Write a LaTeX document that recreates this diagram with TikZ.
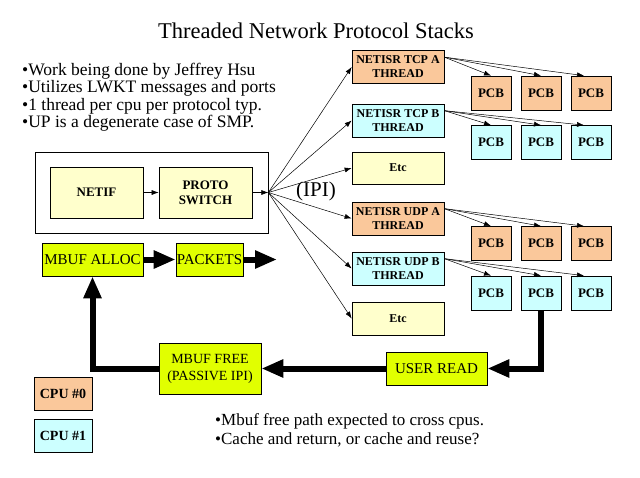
\documentclass[tikz,border=0pt]{standalone}
\usepackage{fontspec}
\setmainfont{Liberation Serif}
\usetikzlibrary{arrows.meta,calc}
\definecolor{peach}{RGB}{250,200,155}
\definecolor{lcyan}{RGB}{204,255,255}
\definecolor{lyel}{RGB}{255,255,204}
\definecolor{ygreen}{RGB}{225,255,0}
\begin{document}
\begin{tikzpicture}[x=1pt,y=-1pt,
  bx/.style={draw=black, line width=0.7pt, inner sep=0pt, align=center},
  thr/.style={bx, minimum width=92pt, minimum height=33pt, font=\bfseries\fontsize{12}{14}\selectfont},
  pcb/.style={bx, minimum width=40pt, minimum height=34pt, font=\bfseries\fontsize{13}{14}\selectfont},
  big/.style={bx, fill=ygreen, minimum height=33pt, font=\fontsize{15}{17}\selectfont},
  cpu/.style={bx, minimum width=58pt, minimum height=33pt, font=\bfseries\fontsize{14}{16}\selectfont},
  inner/.style={bx, fill=lyel, minimum width=93pt, minimum height=51pt, font=\bfseries\fontsize{13}{15}\selectfont},
  bul/.style={anchor=base west, inner sep=0pt, font=\fontsize{17.5}{17}\selectfont},
  note/.style={anchor=base west, inner sep=0pt, font=\fontsize{17}{17}\selectfont},
  thinarr/.style={line width=0.5pt, -{Latex[length=7pt,width=5pt]}},
  thickarr/.style={line width=6pt, line join=miter, -{Triangle[length=22pt,width=17pt]}},
]
\useasboundingbox (0,0) rectangle (640,477);

% title and bullets
\node[font=\fontsize{22.5}{26}\selectfont] (title) at (316,31) {Threaded Network Protocol Stacks};
\node[bul] (b1) at (22,75) {•Work being done by Jeffrey Hsu};
\node[bul] (b2) at (22,92.5) {•Utilizes LWKT messages and ports};
\node[bul] (b3) at (22,110) {•1 thread per cpu per protocol typ.};
\node[bul] (b4) at (22,127.5) {•UP is a degenerate case of SMP.};

% left block
\node[bx, minimum width=233pt, minimum height=81pt] (outer) at (151.5,192.5) {};
\node[inner] (netif) at (96.5,192.5) {NETIF};
\node[inner] (proto) at (205.5,192.5) {PROTO\\SWITCH};
\node[big, minimum width=101pt] (alloc) at (92.5,259.5) {MBUF ALLOC};
\node[big, minimum width=67pt] (packets) at (209.5,259.5) {PACKETS};
\coordinate (pout) at (277,259.5);

% threads
\node[thr, fill=peach] (tcpa) at (398,67) {NETISR TCP A\\THREAD};
\node[thr, fill=lcyan] (tcpb) at (398,120.5) {NETISR TCP B\\THREAD};
\node[thr, fill=lyel, minimum height=32pt] (etca) at (398,168) {Etc};
\node[thr, fill=peach] (udpa) at (398,218.5) {NETISR UDP A\\THREAD};
\node[thr, fill=lcyan] (udpb) at (398,268.5) {NETISR UDP B\\THREAD};
\node[thr, fill=lyel] (etcb) at (398,318.5) {Etc};

% PCBs
\node[pcb, fill=peach] (pa1) at (491,93) {PCB};
\node[pcb, fill=peach] (pa2) at (541,93) {PCB};
\node[pcb, fill=peach] (pa3) at (591,93) {PCB};
\node[pcb, fill=lcyan] (pb1) at (491,142.5) {PCB};
\node[pcb, fill=lcyan] (pb2) at (541,142.5) {PCB};
\node[pcb, fill=lcyan] (pb3) at (591,142.5) {PCB};
\node[pcb, fill=peach] (pc1) at (491,243.5) {PCB};
\node[pcb, fill=peach] (pc2) at (541,243.5) {PCB};
\node[pcb, fill=peach] (pc3) at (591,243.5) {PCB};
\node[pcb, fill=lcyan] (pd1) at (491,293) {PCB};
\node[pcb, fill=lcyan] (pd2) at (541,293) {PCB};
\node[pcb, fill=lcyan] (pd3) at (591,293) {PCB};

% bottom
\node[big, minimum width=102pt, minimum height=51pt, font=\fontsize{14}{17}\selectfont] (free) at (210,368.5) {MBUF FREE\\(PASSIVE IPI)};
\node[big, minimum width=101pt] (uread) at (436.5,368.5) {USER READ};
\node[cpu, fill=peach] (cpu0) at (63,393.5) {CPU \#0};
\node[cpu, fill=lcyan] (cpu1) at (63,435.5) {CPU \#1};
\node[note] (n1) at (215,425) {•Mbuf free path expected to cross cpus.};
\node[note] (n2) at (215,444) {•Cache and return, or cache and reuse?};

\node[font=\fontsize{21}{24}\selectfont] (ipi) at (316,191) {(IPI)};

% thin connectors
\draw[thinarr] (netif) -- (proto);
\draw[thinarr] (proto.east) -- (outer.east);
\foreach \t in {tcpa,tcpb,etca,udpa,udpb,etcb}
  \draw[thinarr] (outer.east) -- (\t.west);
\foreach \t/\p in {tcpa/pa,tcpb/pb,udpa/pc,udpb/pd}{
  \draw[thinarr] ($(\t.north east)+(0,7)$) -- (\p1.north);
  \draw[thinarr] ($(\t.north east)+(0,7)$) -- (\p2.north);
  \draw[thinarr] ($(\t.north east)+(0,7)$) -- ($(\p3.north)+(-7,0)$);
}

% thick connectors
\draw[thickarr] (alloc) -- (packets);
\draw[thickarr] (packets.east) -- (pout);
\draw[thickarr] (pd2.south) |- (uread.east);
\draw[thickarr] (uread.west) -- (free.east);
\draw[thickarr] (free.west) -| (alloc.south);
\end{tikzpicture}
\end{document}
